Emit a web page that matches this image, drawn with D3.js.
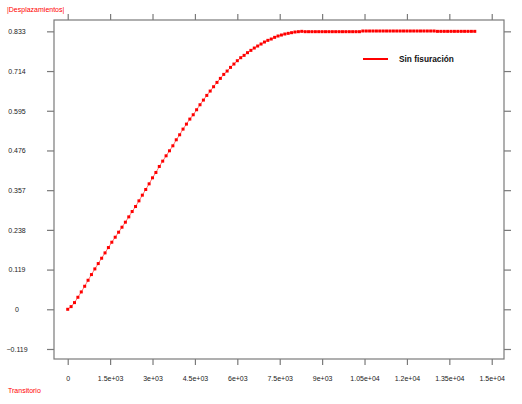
<!DOCTYPE html>
<html>
<head>
<meta charset="utf-8">
<script src="https://cdn.jsdelivr.net/npm/d3@7"></script>
<style>
  body { margin: 0; background: #fff; }
  svg { display: block; font-family: 'Liberation Sans', Arial, sans-serif; }
</style>
</head>
<body>
<svg width="522" height="404"></svg>
<script>
// time values (s)
const times = [
  0, 120, 240, 360, 480, 600, 720, 840, 960, 1080,
  1200, 1320, 1440, 1560, 1680, 1800, 1920, 2040, 2160, 2280,
  2400, 2520, 2640, 2760, 2880, 3000, 3120, 3240, 3360, 3480,
  3600, 3720, 3840, 3960, 4080, 4200, 4320, 4440, 4560, 4680,
  4800, 4920, 5040, 5160, 5280, 5400, 5520, 5640, 5760, 5880,
  6000, 6120, 6240, 6360, 6480, 6600, 6720, 6840, 6960, 7080,
  7200, 7320, 7440, 7560, 7680, 7800, 7920, 8040, 8160, 8280,
  8400, 8520, 8640, 8760, 8880, 9000, 9120, 9240, 9360, 9480,
  9600, 9720, 9840, 9960, 10080, 10200, 10320, 10440, 10560, 10680,
  10800, 10920, 11040, 11160, 11280, 11400, 11520, 11640, 11760, 11880,
  12000, 12120, 12240, 12360, 12480, 12600, 12720, 12840, 12960, 13080,
  13200, 13320, 13440, 13560, 13680, 13800, 13920, 14040, 14160, 14280,
  14400
];

// |Desplazamientos| for "Sin fisuración"
const desplazamientos = [
  0, 0.008, 0.020, 0.036, 0.052, 0.069, 0.087, 0.104, 0.121, 0.137,
  0.153, 0.169, 0.185, 0.201, 0.216, 0.231, 0.246, 0.261, 0.277, 0.293,
  0.308, 0.325, 0.342, 0.359, 0.376, 0.394, 0.410, 0.428, 0.444, 0.460,
  0.475, 0.490, 0.508, 0.523, 0.540, 0.555, 0.570, 0.583, 0.598, 0.613,
  0.627, 0.641, 0.654, 0.667, 0.680, 0.692, 0.704, 0.714, 0.725, 0.735,
  0.745, 0.754, 0.761, 0.769, 0.776, 0.783, 0.789, 0.795, 0.801, 0.806,
  0.810, 0.815, 0.819, 0.822, 0.825, 0.827, 0.829, 0.831, 0.832, 0.833,
  0.832, 0.832, 0.832, 0.832, 0.832, 0.832, 0.832, 0.832, 0.832, 0.832,
  0.832, 0.832, 0.832, 0.832, 0.832, 0.832, 0.832, 0.834, 0.834, 0.834,
  0.834, 0.834, 0.834, 0.834, 0.834, 0.834, 0.834, 0.834, 0.834, 0.834,
  0.834, 0.834, 0.834, 0.834, 0.834, 0.834, 0.834, 0.834, 0.834, 0.833,
  0.833, 0.833, 0.833, 0.833, 0.833, 0.833, 0.833, 0.833, 0.833, 0.833,
  0.833
];

const seriesName = 'Sin fisuración';
const xTicks = [0, 1500, 3000, 4500, 6000, 7500, 9000, 10500, 12000, 13500, 15000];
const xTickLabels = ['0', '1.5e+03', '3e+03', '4.5e+03', '6e+03', '7.5e+03', '9e+03', '1.05e+04', '1.2e+04', '1.35e+04', '1.5e+04'];
const yTicks = [-0.119, 0, 0.119, 0.238, 0.357, 0.476, 0.595, 0.714, 0.833];

const plotLeft = 54, plotRight = 504, plotTop = 20, plotBottom = 359;
const frameColor = '#7a7a7a';
const red = '#ff0000';

const svg = d3.select('svg');

const x = d3.scaleLinear().domain([-485, 15434]).range([plotLeft, plotRight]);
const y = d3.scaleLinear().domain([-0.149, 0.867]).range([plotBottom, plotTop]);

// frame
svg.append('rect')
  .attr('x', plotLeft)
  .attr('y', plotTop)
  .attr('width', plotRight - plotLeft)
  .attr('height', plotBottom - plotTop)
  .attr('fill', 'none')
  .attr('stroke', frameColor)
  .attr('stroke-width', 1.2);

// axes (ticks outward on all four sides)
const styleAxis = g => {
  g.select('.domain').remove();
  g.selectAll('.tick line').attr('stroke', frameColor).attr('stroke-width', 1.2);
  g.selectAll('.tick text')
    .attr('fill', '#222')
    .style('font-size', '7px')
    .style('font-family', "'Liberation Sans', Arial, sans-serif");
};

svg.append('g')
  .attr('transform', `translate(0,${plotBottom})`)
  .call(d3.axisBottom(x).tickValues(xTicks).tickSize(6).tickPadding(11)
    .tickFormat((d, i) => xTickLabels[i]))
  .call(styleAxis);

svg.append('g')
  .attr('transform', `translate(0,${plotTop})`)
  .call(d3.axisTop(x).tickValues(xTicks).tickSize(6).tickFormat(''))
  .call(styleAxis);

const yAxis = svg.append('g')
  .attr('transform', `translate(${plotLeft},0)`)
  .call(d3.axisLeft(y).tickValues(yTicks).tickSize(7).tickFormat(d3.format('')))
  .call(styleAxis);
yAxis.selectAll('.tick text')
  .attr('text-anchor', 'middle')
  .attr('x', -37);

svg.append('g')
  .attr('transform', `translate(${plotRight},0)`)
  .call(d3.axisRight(y).tickValues(yTicks).tickSize(7).tickFormat(''))
  .call(styleAxis);

// series
const points = times.map((t, i) => ({ t, v: desplazamientos[i] }));

svg.append('path')
  .datum(points)
  .attr('fill', 'none')
  .attr('stroke', red)
  .attr('stroke-opacity', 0.55)
  .attr('stroke-width', 1)
  .attr('d', d3.line().x(d => x(d.t)).y(d => y(d.v)));

svg.append('g')
  .selectAll('rect')
  .data(points)
  .enter()
  .append('rect')
  .attr('x', d => x(d.t) - 1.5)
  .attr('y', d => y(d.v) - 1.5)
  .attr('width', 3)
  .attr('height', 3)
  .attr('fill', red);

// legend
svg.append('line')
  .attr('x1', 363).attr('x2', 388)
  .attr('y1', 59).attr('y2', 59)
  .attr('stroke', red)
  .attr('stroke-width', 2);

svg.append('text')
  .attr('x', 399)
  .attr('y', 59)
  .attr('dy', '0.35em')
  .style('font-size', '8.3px')
  .style('font-weight', 'bold')
  .attr('fill', '#111')
  .text(seriesName);

// axis titles
svg.append('text')
  .attr('x', 7)
  .attr('y', 10)
  .attr('dy', '0.35em')
  .style('font-size', '7px')
  .attr('fill', red)
  .text('|Desplazamientos|');

svg.append('text')
  .attr('x', 8)
  .attr('y', 391)
  .attr('dy', '0.35em')
  .style('font-size', '7px')
  .attr('fill', red)
  .text('Transitorio');
</script>
</body>
</html>
